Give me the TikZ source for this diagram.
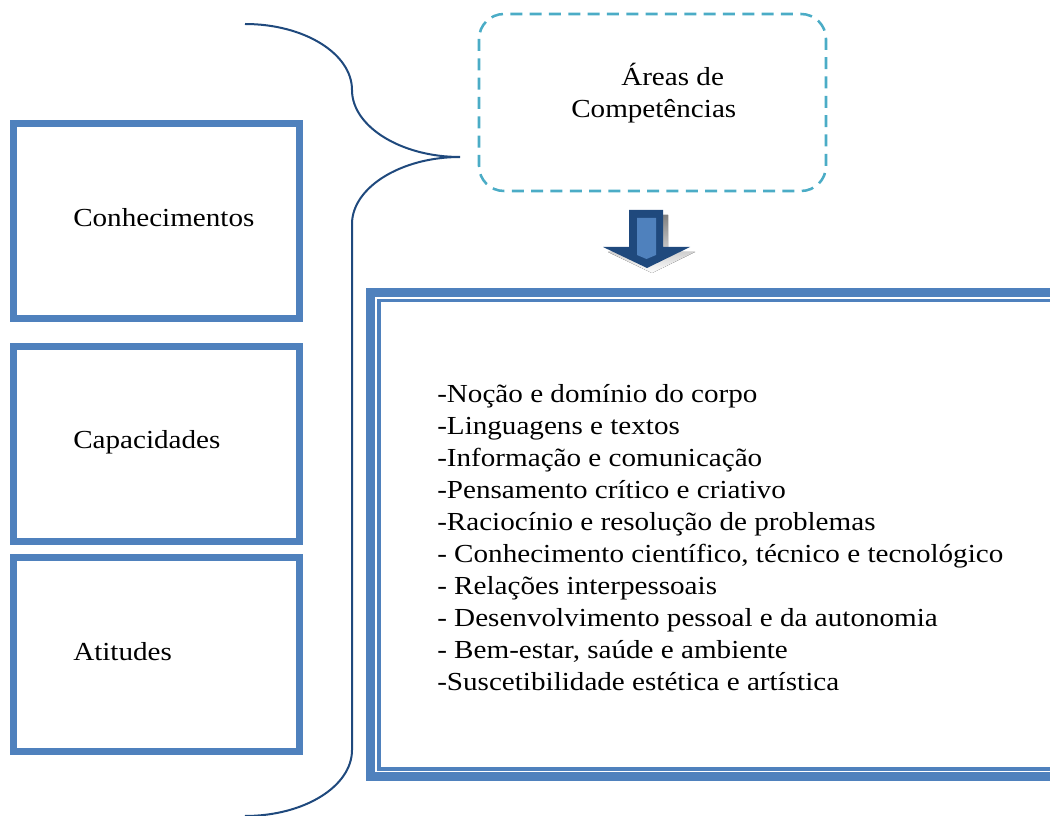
\documentclass[tikz,border=0pt]{standalone}
\usepackage{fontspec}
\setmainfont{Liberation Serif}[FakeStretch=1.12]
\definecolor{boxblue}{RGB}{79,129,189}
\definecolor{navy}{RGB}{31,73,125}
\definecolor{dashcyan}{RGB}{75,172,198}
\definecolor{shade}{RGB}{150,158,172}

\begin{document}
\begin{tikzpicture}[x=0.75pt,y=-0.75pt,
    sidebox/.style={draw=boxblue,line width=5.25pt},
    txt/.style={anchor=west,inner sep=0pt,font=\fontsize{19.5}{24}\selectfont}]
            \useasboundingbox (0,0) rectangle (1050,816);
            \clip (0,0) rectangle (1050,816);

            % left boxes
            \draw[sidebox] (13.5,123.5) rectangle (299.5,318.5);
            \draw[sidebox] (13.5,346.5) rectangle (299.5,541.5);
            \draw[sidebox] (13.5,557.5) rectangle (299.5,751.5);
            \node[txt] (con) at (73,218) {Conhecimentos};
            \node[txt] (cap) at (73,442) {Capacidades};
            \node[txt] (att) at (73,652) {Atitudes};

            % brace
            \coordinate (tip) at (460,157);
            \draw[navy,line width=1.5pt] (245,24) .. controls (304,24) and (352,53.5) .. (352,90)
                .. controls (352,126.5) and (401,157) .. (tip)
                .. controls (401,157) and (352,187.5) .. (352,224)
                -- (352,750) .. controls (352,786.5) and (304,816) .. (245,816);

            % dashed box
            \draw[dashcyan,line width=1.9pt,dash pattern=on 9pt off 5.5pt,rounded corners=18.75pt]
                (479,14) rectangle (826,191);
            \node[txt,align=left] (areas) at (571,93.5) {\hspace*{37.5pt}Áreas de\\Competências};

            % down arrow: shadow, dark body, light inside
            \fill[shade,shift={(5,5)}] (629,210) -- (663,210) -- (663,247) -- (690,247)
                -- (647,268) -- (603,247) -- (629,247) -- cycle;
            \fill[navy] (629,210) -- (663,210) -- (663,247) -- (690,247)
                -- (647,268) -- (603,247) -- (629,247) -- cycle;
            \fill[boxblue] (637,218) -- (656,218) -- (656,255) -- (646.5,259) -- (637,255) -- cycle;

            % big box, thick-thin border
            \draw[boxblue,line width=6.75pt] (370.5,292.5) rectangle (1060,776.5);
            \draw[boxblue,line width=2.6pt] (379,300.75) rectangle (1052,769);
            \node[txt,align=left] (list) at (437,537.5) {-Noção e domínio do corpo\\
                -Linguagens e textos\\
                -Informação e comunicação\\
                -Pensamento crítico e criativo\\
                -Raciocínio e resolução de problemas\\
                - Conhecimento científico, técnico e tecnológico\\
                - Relações interpessoais\\
                - Desenvolvimento pessoal e da autonomia\\
                - Bem-estar, saúde e ambiente\\
                -Suscetibilidade estética e artística};
        \end{tikzpicture}
\end{document}
